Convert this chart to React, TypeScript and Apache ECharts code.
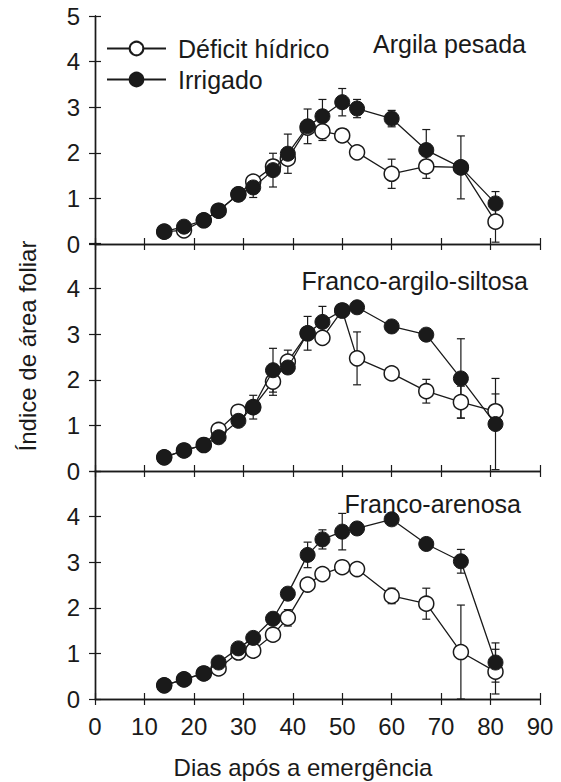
import React, { useEffect, useRef } from "react";
import * as echarts from "echarts";

const days = [14, 18, 22, 25, 29, 32, 36, 39, 43, 46, 50, 53, 60, 67, 74, 81];

const topIrr = [0.27, 0.38, 0.52, 0.73, 1.09, 1.24, 1.62, 1.98, 2.58, 2.8, 3.11, 2.97, 2.75, 2.06, 1.68, 0.89];
const topDef = [0.27, 0.3, 0.52, 0.73, 1.09, 1.37, 1.7, 1.87, 2.55, 2.47, 2.38, 2.01, 1.54, 1.7, 1.68, 0.49];
const topIrrErr = [0, 0, 0, 0, 0.15, 0.22, 0.37, 0.43, 0.38, 0.37, 0.3, 0.2, 0.18, 0.45, 0.69, 0.26];
const topDefErr = [0, 0, 0, 0, 0, 0, 0, 0, 0, 0.2, 0.15, 0, 0.32, 0.26, 0, 0.45];

const midIrr = [0.3, 0.45, 0.57, 0.74, 1.1, 1.4, 2.21, 2.27, 3.02, 3.27, 3.52, 3.59, 3.17, 2.99, 2.03, 1.03];
const midDef = [0.3, 0.45, 0.57, 0.9, 1.3, 1.4, 1.96, 2.4, 3.02, 2.92, 3.52, 2.47, 2.14, 1.75, 1.51, 1.31];
const midIrrErr = [0, 0, 0, 0, 0, 0.26, 0.48, 0, 0.37, 0.34, 0, 0, 0, 0, 0.87, 1.0];
const midDefErr = [0, 0, 0, 0, 0, 0, 0.3, 0.25, 0, 0.08, 0, 0.58, 0, 0.26, 0.35, 0.38];

const botIrr = [0.3, 0.43, 0.56, 0.8, 1.11, 1.34, 1.76, 2.31, 3.16, 3.5, 3.67, 3.74, 3.94, 3.4, 3.02, 0.8];
const botDef = [0.3, 0.43, 0.56, 0.67, 1.02, 1.06, 1.41, 1.78, 2.51, 2.74, 2.89, 2.85, 2.26, 2.09, 1.03, 0.6];
const botIrrErr = [0, 0, 0, 0, 0, 0, 0, 0, 0.28, 0.21, 0.4, 0, 0, 0, 0.26, 0.43];
const botDefErr = [0, 0, 0, 0, 0, 0, 0, 0.18, 0, 0, 0, 0, 0.17, 0.34, 1.03, 0.49];

const panelNames = ["Argila pesada", "Franco-argilo-siltosa", "Franco-arenosa"];
const seriesNames = ["Déficit hídrico", "Irrigado"];
const xTitle = "Dias após a emergência";
const yTitle = "Índice de área foliar";

const panels = [
  { irr: topIrr, def: topDef, irrErr: topIrrErr, defErr: topDefErr },
  { irr: midIrr, def: midDef, irrErr: midIrrErr, defErr: midDefErr },
  { irr: botIrr, def: botDef, irrErr: botIrrErr, defErr: botDefErr },
];

const FONT = "'Liberation Sans', Arial, sans-serif";
const INK = "#1a1a1a";

export default function App() {
  const ref = useRef<HTMLDivElement>(null);
  useEffect(() => {
    const chart = echarts.init(ref.current!, null, { renderer: "svg" });
    const tops = [16, 243, 471];
    const h = 228;
    const left = 95;
    const width = 445;

    const grids: any[] = [];
    const xAxes: any[] = [];
    const yAxes: any[] = [];
    const series: any[] = [];

    const axisLine = { show: true, lineStyle: { color: INK, width: 1.4 } };
    const tick = { show: true, inside: true, length: 6, lineStyle: { color: INK, width: 1.2 } };

    const errRender = (params: any, api: any) => {
      const x = api.value(0);
      const y = api.value(1);
      const e = api.value(2);
      if (!e) return { type: "group", children: [] };
      const hi = api.coord([x, y + e]);
      const lo = api.coord([x, Math.max(0, y - e)]);
      const cw = 4;
      const st = { stroke: INK, lineWidth: 1.2 };
      return {
        type: "group",
        children: [
          { type: "line", shape: { x1: hi[0], y1: hi[1], x2: lo[0], y2: lo[1] }, style: st },
          { type: "line", shape: { x1: hi[0] - cw, y1: hi[1], x2: hi[0] + cw, y2: hi[1] }, style: st },
          { type: "line", shape: { x1: lo[0] - cw, y1: lo[1], x2: lo[0] + cw, y2: lo[1] }, style: st },
        ],
      };
    };

    panels.forEach((p, i) => {
      grids.push({ left, width, top: tops[i], height: h });
      xAxes.push({
        type: "value", gridIndex: i, position: "bottom", min: 0, max: 90, interval: 10,
        axisLine, axisTick: tick, splitLine: { show: false },
        axisLabel: { show: i === 2, fontSize: 24, color: INK, fontFamily: FONT, margin: 15 },
      });
      xAxes.push({
        type: "value", gridIndex: i, position: "top", min: 0, max: 90, interval: 10,
        axisLine, axisTick: tick, splitLine: { show: false }, axisLabel: { show: false },
      });
      yAxes.push({
        type: "value", gridIndex: i, position: "left", min: 0, max: 5, interval: 1,
        axisLine, axisTick: tick, splitLine: { show: false },
        axisLabel: {
          show: true, fontSize: 24, color: INK, fontFamily: FONT, margin: 15,
          formatter: (v: number) => (i > 0 && v === 5 ? "" : String(v)),
        },
      });
      yAxes.push({
        type: "value", gridIndex: i, position: "right", min: 0, max: 5, interval: 1,
        axisLine, axisTick: tick, splitLine: { show: false }, axisLabel: { show: false },
      });
      const xi = 2 * i;
      const yi = 2 * i;
      series.push({
        type: "custom", xAxisIndex: xi, yAxisIndex: yi, renderItem: errRender, z: 1,
        encode: { x: 0, y: 1 }, silent: true,
        data: days.map((d, k) => [d, p.def[k], p.defErr[k]]),
      });
      series.push({
        type: "custom", xAxisIndex: xi, yAxisIndex: yi, renderItem: errRender, z: 1,
        encode: { x: 0, y: 1 }, silent: true,
        data: days.map((d, k) => [d, p.irr[k], p.irrErr[k]]),
      });
      series.push({
        name: seriesNames[0], type: "line", xAxisIndex: xi, yAxisIndex: yi, z: 3,
        symbol: "circle", symbolSize: 15,
        itemStyle: { color: "#ffffff", borderColor: INK, borderWidth: 1.5 },
        lineStyle: { color: INK, width: 1.3 },
        data: days.map((d, k) => [d, p.def[k]]),
      });
      series.push({
        name: seriesNames[1], type: "line", xAxisIndex: xi, yAxisIndex: yi, z: 4,
        symbol: "circle", symbolSize: 15,
        itemStyle: { color: INK, borderColor: INK, borderWidth: 1 },
        lineStyle: { color: INK, width: 1.3 },
        data: days.map((d, k) => [d, p.irr[k]]),
      });
    });

    const panelLabelY = [44, 281, 504];
    const panelLabelRight = [526, 528, 521];

    chart.setOption({
      animation: false,
      backgroundColor: "#ffffff",
      grid: grids,
      xAxis: xAxes,
      yAxis: yAxes,
      series,
      legend: {
        data: seriesNames,
        orient: "vertical",
        left: 101,
        top: 31,
        itemWidth: 59,
        itemHeight: 17,
        itemGap: 6,
        textStyle: { fontSize: 25, lineHeight: 25, color: INK, fontFamily: FONT, padding: [0, 0, 0, 7] },
        selectedMode: false,
      },
      graphic: [
        ...panelNames.map((n, i) => ({
          type: "text",
          x: panelLabelRight[i],
          y: panelLabelY[i],
          style: { text: n, fontSize: 25, fill: INK, fontFamily: FONT, textAlign: "right", textVerticalAlign: "middle" },
        })),
        {
          type: "text", x: 303, y: 767,
          style: { text: xTitle, fontSize: 24, fill: INK, fontFamily: FONT, textAlign: "center", textVerticalAlign: "middle" },
        },
        {
          type: "text", x: 27, y: 346, rotation: Math.PI / 2,
          style: { text: yTitle, fontSize: 24, fill: INK, fontFamily: FONT, textAlign: "center", textVerticalAlign: "middle" },
        },
      ],
    });
    return () => chart.dispose();
  }, []);
  return <div ref={ref} style={{ position: "fixed", left: 0, top: 0, width: 561, height: 782, background: "#fff" }} />;
}
